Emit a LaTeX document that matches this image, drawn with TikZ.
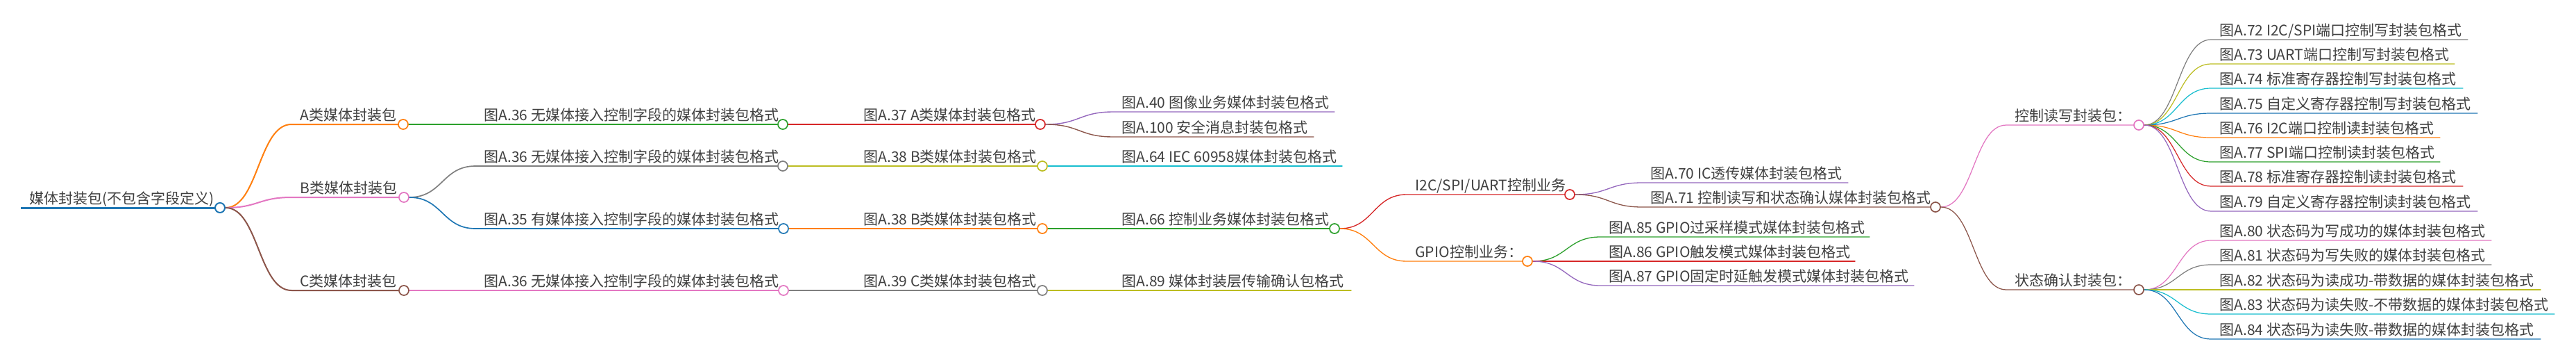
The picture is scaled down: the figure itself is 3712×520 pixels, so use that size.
\documentclass[tikz,border=0pt]{standalone}
\usepackage{fontspec}
\setmainfont{Noto Sans CJK SC}
\usetikzlibrary{calc}
\pgfdeclarelayer{bg}
\pgfsetlayers{bg,main}
\definecolor{cblue}{HTML}{1F77B4}
\definecolor{corange}{HTML}{FF7F0E}
\definecolor{cgreen}{HTML}{2CA02C}
\definecolor{cred}{HTML}{D62728}
\definecolor{cpurple}{HTML}{9467BD}
\definecolor{cbrown}{HTML}{8C564B}
\definecolor{cpink}{HTML}{E377C2}
\definecolor{cgray}{HTML}{7F7F7F}
\definecolor{colive}{HTML}{BCBD22}
\definecolor{ccyan}{HTML}{17BECF}
\definecolor{txt}{HTML}{404040}
\tikzset{
  lbl/.style={anchor=base west,inner sep=0pt,outer sep=0pt,text=txt,font=\fontsize{21}{25}\selectfont},
  dot/.style={circle,fill=white,minimum size=14pt,inner sep=0pt,line width=1.7pt},
  edge/.style={line cap=round}
}
\newcommand\nd[5]{%
  \coordinate (#1S) at (#2,#3);
  \coordinate (#1E) at (#4,#3);
  \node[lbl] (#1T) at ($(#1S)+(12.5,-5.5)$) {#5};}
\newcommand\dt[2]{\node[dot,draw=#2] (#1C) at (#1E) {};}
\newcommand\lk[4]{%
  \begin{pgfonlayer}{bg}
  \draw[edge,#3,line width=#4] let \p1=(#1C.east),\p2=(#2S) in
    (#1C.east) .. controls ({(\x1+\x2)/2},\y1) and ({(\x1+\x2)/2},\y2) .. (#2S) -- (#2E);
  \end{pgfonlayer}}
\begin{document}
\begin{tikzpicture}[x=1pt,y=-1pt]
\begin{pgfonlayer}{bg}
\fill[white] (0,0) rectangle (3712,520);
\end{pgfonlayer}
\useasboundingbox (0,0) rectangle (3712,520);
% root
\nd{r}{30}{299}{317}{媒体封装包(不包含字段定义)}
\node[dot,draw=cblue,line width=2pt] (rC) at (rE) {};
\begin{pgfonlayer}{bg}
\draw[cblue,line width=3pt] (rS) -- (rC.center);
\end{pgfonlayer}
% level 1
\nd{a}{420}{179}{581}{A类媒体封装包}\dt{a}{corange}
\nd{b}{420}{284}{582}{B类媒体封装包}\dt{b}{cpink}
\nd{c}{420}{418}{582}{C类媒体封装包}\dt{c}{cbrown}
% level 2
\nd{aa}{685}{179}{1128}{图A.36 无媒体接入控制字段的媒体封装包格式}\dt{aa}{cgreen}
\nd{ba}{685}{239}{1128}{图A.36 无媒体接入控制字段的媒体封装包格式}\dt{ba}{cgray}
\nd{bb}{685}{329}{1129}{图A.35 有媒体接入控制字段的媒体封装包格式}\dt{bb}{cblue}
\nd{ca}{685}{418}{1129}{图A.36 无媒体接入控制字段的媒体封装包格式}\dt{ca}{cpink}
% level 3
\nd{ab}{1232}{179}{1499}{图A.37 A类媒体封装包格式}\dt{ab}{cred}
\nd{bc}{1232}{239}{1502}{图A.38 B类媒体封装包格式}\dt{bc}{colive}
\nd{bd}{1232}{329}{1502}{图A.38 B类媒体封装包格式}\dt{bd}{corange}
\nd{cb}{1232}{418}{1502}{图A.39 C类媒体封装包格式}\dt{cb}{cgray}
% level 4
\nd{ac}{1604}{161}{1923}{图A.40 图像业务媒体封装包格式}
\nd{ad}{1604}{197}{1893}{图A.100 安全消息封装包格式}
\nd{be}{1604}{239}{1934}{图A.64 IEC 60958媒体封装包格式}
\nd{bf}{1604}{329}{1923}{图A.66 控制业务媒体封装包格式}\dt{bf}{cgreen}
\nd{cc}{1604}{418}{1947}{图A.89 媒体封装层传输确认包格式}
% level 5
\nd{d1}{2027}{280}{2262}{I2C/SPI/UART控制业务}\dt{d1}{cred}
\nd{d2}{2027}{376}{2201}{GPIO控制业务：}\dt{d2}{corange}
% level 6
\nd{e1}{2366}{263}{2663}{图A.70 IC透传媒体封装包格式}
\nd{e2}{2366}{298}{2789}{图A.71 控制读写和状态确认媒体封装包格式}\dt{e2}{cbrown}
\nd{g1}{2306}{341}{2694}{图A.85 GPIO过采样模式媒体封装包格式}
\nd{g2}{2306}{376}{2673}{图A.86 GPIO触发模式媒体封装包格式}
\nd{g3}{2306}{411}{2758}{图A.87 GPIO固定时延触发模式媒体封装包格式}
% level 7
\nd{f1}{2891}{180}{3082}{控制读写封装包：}\dt{f1}{cpink}
\nd{f2}{2891}{417}{3082}{状态确认封装包：}\dt{f2}{cbrown}
% level 8
\nd{h1}{3186}{57}{3556}{图A.72 I2C/SPI端口控制写封装包格式}
\nd{h2}{3186}{92}{3537}{图A.73 UART端口控制写封装包格式}
\nd{h3}{3186}{127}{3549}{图A.74 标准寄存器控制写封装包格式}
\nd{h4}{3186}{163}{3570}{图A.75 自定义寄存器控制写封装包格式}
\nd{h5}{3186}{198}{3516}{图A.76 I2C端口控制读封装包格式}
\nd{h6}{3186}{233}{3516}{图A.77 SPI端口控制读封装包格式}
\nd{h7}{3186}{268}{3549}{图A.78 标准寄存器控制读封装包格式}
\nd{h8}{3186}{304}{3570}{图A.79 自定义寄存器控制读封装包格式}
\nd{k1}{3186}{346}{3590}{图A.80 状态码为写成功的媒体封装包格式}
\nd{k2}{3186}{381}{3590}{图A.81 状态码为写失败的媒体封装包格式}
\nd{k3}{3186}{417}{3661}{图A.82 状态码为读成功-带数据的媒体封装包格式}
\nd{k4}{3186}{452}{3681}{图A.83 状态码为读失败-不带数据的媒体封装包格式}
\nd{k5}{3186}{488}{3661}{图A.84 状态码为读失败-带数据的媒体封装包格式}
% links
\lk{r}{a}{corange}{2pt}
\lk{r}{b}{cpink}{2pt}
\lk{r}{c}{cbrown}{2pt}
\lk{a}{aa}{cgreen}{1.67pt}
\lk{b}{ba}{cgray}{1.67pt}
\lk{b}{bb}{cblue}{1.67pt}
\lk{c}{ca}{cpink}{1.67pt}
\lk{aa}{ab}{cred}{1.5pt}
\lk{ba}{bc}{colive}{1.5pt}
\lk{bb}{bd}{corange}{1.5pt}
\lk{ca}{cb}{cgray}{1.5pt}
\lk{ab}{ac}{cpurple}{1.4pt}
\lk{ab}{ad}{cbrown}{1.4pt}
\lk{bc}{be}{ccyan}{1.4pt}
\lk{bd}{bf}{cgreen}{1.4pt}
\lk{cb}{cc}{colive}{1.4pt}
\lk{bf}{d1}{cred}{1.33pt}
\lk{bf}{d2}{corange}{1.33pt}
\lk{d1}{e1}{cpurple}{1.3pt}
\lk{d1}{e2}{cbrown}{1.3pt}
\lk{d2}{g1}{cgreen}{1.3pt}
\lk{d2}{g2}{cred}{1.3pt}
\lk{d2}{g3}{cpurple}{1.3pt}
\lk{e2}{f1}{cpink}{1.25pt}
\lk{e2}{f2}{cbrown}{1.25pt}
\lk{f1}{h1}{cgray}{1.22pt}
\lk{f1}{h2}{colive}{1.22pt}
\lk{f1}{h3}{ccyan}{1.22pt}
\lk{f1}{h4}{cblue}{1.22pt}
\lk{f1}{h5}{corange}{1.22pt}
\lk{f1}{h6}{cgreen}{1.22pt}
\lk{f1}{h7}{cred}{1.22pt}
\lk{f1}{h8}{cpurple}{1.22pt}
\lk{f2}{k1}{cpink}{1.22pt}
\lk{f2}{k2}{cgray}{1.22pt}
\lk{f2}{k3}{colive}{1.22pt}
\lk{f2}{k4}{ccyan}{1.22pt}
\lk{f2}{k5}{cblue}{1.22pt}
\end{tikzpicture}
\end{document}
